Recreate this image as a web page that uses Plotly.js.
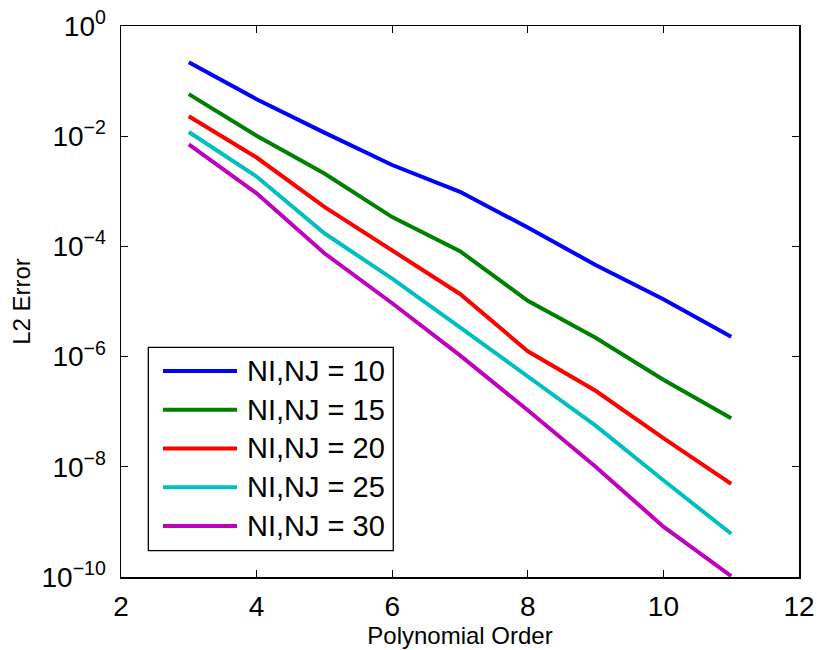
<!DOCTYPE html>
<html>
<head>
<meta charset="utf-8">
<script src="https://cdn.plot.ly/plotly-3.0.1.min.js"></script>
<style>
  html, body { margin: 0; padding: 0; background: #ffffff; }
  #chart { width: 817px; height: 650px; }
</style>
</head>
<body>
<div id="chart"></div>
<script>
// Convergence of the L2 error with polynomial order for several grid sizes
const orders = [3, 4, 5, 6, 7, 8, 9, 10, 11];
const err10 = [0.22, 0.047, 0.0116, 0.0030, 9.8e-4, 2.2e-4, 4.6e-5, 1.1e-5, 2.3e-6];
const err15 = [0.058, 0.0102, 0.0021, 3.4e-4, 8.2e-5, 1.03e-5, 2.2e-6, 3.8e-7, 7.6e-8];
const err20 = [0.023, 0.0041, 5.2e-4, 8.3e-5, 1.37e-5, 1.25e-6, 2.4e-7, 3.3e-8, 4.9e-9];
const err25 = [0.0119, 0.00185, 1.73e-4, 2.6e-5, 3.4e-6, 4.3e-7, 5.6e-8, 5.7e-9, 6.1e-10];
const err30 = [0.0071, 9.2e-4, 7.5e-5, 9.3e-6, 1.05e-6, 1.06e-7, 1.0e-8, 8.2e-10, 1.04e-10];

const seriesNames = ['NI,NJ = 10', 'NI,NJ = 15', 'NI,NJ = 20', 'NI,NJ = 25', 'NI,NJ = 30'];
const seriesData = [err10, err15, err20, err25, err30];
const seriesColors = ['#0000ff', '#008000', '#ff0000', '#00bfbf', '#bf00bf'];

const xTicks = [2, 4, 6, 8, 10, 12];
const yExponents = [0, -2, -4, -6, -8, -10];

const FONT = 'Liberation Sans, Arial, Helvetica, sans-serif';

const traces = seriesData.map((ys, i) => ({
  type: 'scatter',
  mode: 'lines',
  x: orders,
  y: ys,
  name: seriesNames[i],
  line: { color: seriesColors[i], width: 4 },
  showlegend: false
}));

// Legend box drawn in paper coordinates (MATLAB-style long line samples)
const legBox = { x0: 0.0403, x1: 0.4016, y0: 0.0477, y1: 0.4169 };
const rowFirst = 0.3739, rowStep = 0.0703;
const sampleX0 = 0.0619, sampleX1 = 0.1711, textX = 0.1830;

const shapes = [{
  type: 'rect', xref: 'paper', yref: 'paper',
  x0: legBox.x0, x1: legBox.x1, y0: legBox.y0, y1: legBox.y1,
  line: { color: '#000000', width: 1.3 }, fillcolor: '#ffffff', layer: 'above'
}];
const annotations = [];
seriesNames.forEach((name, i) => {
  const yy = rowFirst - i * rowStep;
  shapes.push({
    type: 'line', xref: 'paper', yref: 'paper',
    x0: sampleX0, x1: sampleX1, y0: yy, y1: yy,
    line: { color: seriesColors[i], width: 4 }, layer: 'above'
  });
  annotations.push({
    xref: 'paper', yref: 'paper', x: textX, y: yy,
    xanchor: 'left', yanchor: 'middle', showarrow: false,
    text: name, font: { family: FONT, size: 29, color: '#000000' }
  });
});

const layout = {
  width: 817, height: 650,
  margin: { l: 121, r: 18, t: 26, b: 73 },
  paper_bgcolor: '#ffffff', plot_bgcolor: '#ffffff',
  font: { family: FONT, color: '#000000' },
  xaxis: {
    range: [2, 12],
    tickvals: xTicks,
    ticks: 'inside', ticklen: 7, tickwidth: 1.2, tickcolor: '#000000',
    showline: true, linecolor: '#000000', linewidth: 1.5, mirror: 'ticks',
    showgrid: false, zeroline: false,
    tickfont: { family: FONT, size: 28, color: '#000000' },
    ticklabelstandoff: 4,
    title: { text: 'Polynomial Order', font: { family: FONT, size: 24, color: '#000000' }, standoff: 3 }
  },
  yaxis: {
    type: 'log',
    range: [-10, 0],
    tickvals: yExponents.map(e => Math.pow(10, e)),
    ticktext: yExponents.map(e => '10<sup>' + (e < 0 ? '\u2212' + (-e) : e) + '</sup>'),
    ticks: 'inside', ticklen: 7, tickwidth: 1.2, tickcolor: '#000000',
    showline: true, linecolor: '#000000', linewidth: 1.5, mirror: 'ticks',
    showgrid: false, zeroline: false,
    tickfont: { family: FONT, size: 28, color: '#000000' },
    ticklabelstandoff: 8,
    title: { text: 'L2 Error', font: { family: FONT, size: 24, color: '#000000' }, standoff: 4 }
  },
  shapes: shapes,
  annotations: annotations,
  showlegend: false
};

Plotly.newPlot('chart', traces, layout, { staticPlot: true, displayModeBar: false });
</script>
</body>
</html>
